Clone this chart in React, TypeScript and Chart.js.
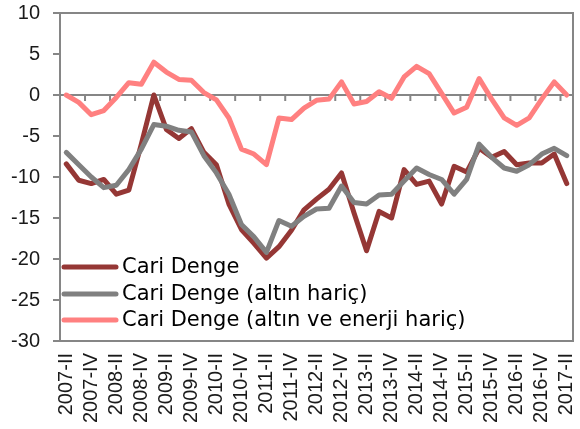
import React, { useEffect, useRef } from "react";
import { Chart, registerables } from "chart.js";

Chart.register(...registerables);

const categories = [
  "2007-II", "2007-III", "2007-IV",
  "2008-I", "2008-II", "2008-III", "2008-IV",
  "2009-I", "2009-II", "2009-III", "2009-IV",
  "2010-I", "2010-II", "2010-III", "2010-IV",
  "2011-I", "2011-II", "2011-III", "2011-IV",
  "2012-I", "2012-II", "2012-III", "2012-IV",
  "2013-I", "2013-II", "2013-III", "2013-IV",
  "2014-I", "2014-II", "2014-III", "2014-IV",
  "2015-I", "2015-II", "2015-III", "2015-IV",
  "2016-I", "2016-II", "2016-III", "2016-IV",
  "2017-I", "2017-II",
];

const cariDenge = [
  -8.4, -10.4, -10.8, -10.3, -12.1, -11.6, -6.0, 0.0, -4.2, -5.3,
  -4.1, -7.0, -8.5, -13.3, -16.4, -18.1, -19.9, -18.5, -16.5, -14.0,
  -12.7, -11.5, -9.5, -14.4, -19.0, -14.2, -15.0, -9.1, -10.9, -10.5,
  -13.3, -8.7, -9.4, -6.5, -7.6, -6.9, -8.5, -8.3, -8.3, -7.2, -10.8,
];

const altinHaric = [
  -7.0, -8.5, -10.0, -11.3, -11.0, -9.1, -6.6, -3.6, -3.8, -4.3,
  -4.5, -7.4, -9.5, -12.1, -15.8, -17.3, -19.2, -15.3, -16.0, -14.8,
  -13.9, -13.8, -11.1, -13.1, -13.3, -12.2, -12.1, -10.5, -8.9, -9.7,
  -10.3, -12.1, -10.3, -6.0, -7.6, -8.9, -9.3, -8.5, -7.2, -6.5, -7.4,
];

const altinEnerjiHaric = [
  0.0, -0.9, -2.4, -1.9, -0.3, 1.5, 1.3, 4.0, 2.8, 1.9,
  1.8, 0.3, -0.6, -2.8, -6.6, -7.2, -8.5, -2.8, -3.0, -1.6,
  -0.65, -0.5, 1.6, -1.1, -0.8, 0.4, -0.4, 2.2, 3.5, 2.6,
  0.2, -2.2, -1.5, 2.0, -0.5, -2.8, -3.7, -2.8, -0.5, 1.6, 0.0,
];

const seriesNames = [
  "Cari Denge",
  "Cari Denge (altın hariç)",
  "Cari Denge (altın ve enerji hariç)",
];
const seriesColors = ["#953735", "#808080", "#FF8080"];

const AXIS_COLOR = "#868686";

const framePlugin = {
  id: "frame",
  beforeDatasetsDraw(chart: any) {
    const { ctx, chartArea, scales } = chart;
    const x = scales.x;
    const y = scales.y;
    const y0 = y.getPixelForValue(0);
    ctx.save();
    ctx.strokeStyle = AXIS_COLOR;
    ctx.lineWidth = 2;
    ctx.beginPath();
    ctx.moveTo(chartArea.left, chartArea.top);
    ctx.lineTo(chartArea.right, chartArea.top);
    ctx.lineTo(chartArea.right, chartArea.bottom);
    ctx.stroke();
    ctx.beginPath();
    ctx.moveTo(chartArea.left, y0);
    ctx.lineTo(chartArea.right, y0);
    ctx.stroke();
    ctx.beginPath();
    for (let i = 2; i < categories.length; i += 2) {
      const px = (x.getPixelForValue(i - 1) + x.getPixelForValue(i)) / 2;
      ctx.moveTo(px, y0);
      ctx.lineTo(px, y0 + 6);
    }
    ctx.stroke();
    ctx.restore();
  },
};

const legendPlugin = {
  id: "inLegend",
  afterDatasetsDraw(chart: any) {
    const { ctx, chartArea } = chart;
    const offsets = [-74, -47, -21];
    ctx.save();
    ctx.font = "21px 'DejaVu Sans'";
    ctx.textBaseline = "middle";
    ctx.textAlign = "left";
    seriesNames.forEach((name, i) => {
      const cy = chartArea.bottom + offsets[i];
      ctx.strokeStyle = seriesColors[i];
      ctx.lineWidth = 5;
      ctx.lineCap = "round";
      ctx.beginPath();
      ctx.moveTo(chartArea.left + 4, cy);
      ctx.lineTo(chartArea.left + 56, cy);
      ctx.stroke();
      ctx.fillStyle = "#000000";
      ctx.fillText(name, chartArea.left + 62, cy + 1);
    });
    ctx.restore();
  },
};

export default function App() {
  const canvasRef = useRef<HTMLCanvasElement | null>(null);

  useEffect(() => {
    document.body.style.margin = "0";
    const canvas = canvasRef.current;
    if (!canvas) return;
    const datasets = [cariDenge, altinHaric, altinEnerjiHaric].map((d, i) => ({
      label: seriesNames[i],
      data: d,
      borderColor: seriesColors[i],
      backgroundColor: seriesColors[i],
      borderWidth: 5,
      pointRadius: 0,
      tension: 0,
      borderJoinStyle: "round" as const,
      borderCapStyle: "round" as const,
      fill: false,
      order: [2, 1, 0][i],
    }));
    const chart = new Chart(canvas, {
      type: "line",
      data: { labels: categories, datasets },
      plugins: [framePlugin, legendPlugin],
      options: {
        animation: false,
        responsive: false,
        maintainAspectRatio: false,
        layout: { padding: { top: 13, right: 7, left: 0, bottom: 0 } },
        plugins: {
          legend: { display: false },
          tooltip: { enabled: false },
          title: { display: false },
        },
        scales: {
          x: {
            type: "category",
            offset: true,
            grid: { display: false, drawTicks: false },
            border: { display: true, color: AXIS_COLOR, width: 2 },
            ticks: {
              autoSkip: false,
              maxRotation: 90,
              minRotation: 90,
              padding: 12,
              color: "#1a1a1a",
              font: { family: "'Liberation Sans', Arial, sans-serif", size: 20 },
              callback: (_v: any, i: number) => (i % 2 === 0 ? categories[i] : ""),
            },
            afterFit: (s: any) => {
              s.height = 88;
              s.paddingLeft = 0;
              s.paddingRight = 0;
            },
          },
          y: {
            min: -30,
            max: 10,
            ticks: {
              stepSize: 5,
              padding: 13,
              color: "#1a1a1a",
              font: { family: "'Liberation Sans', Arial, sans-serif", size: 20 },
            },
            grid: {
              display: true,
              drawOnChartArea: false,
              drawTicks: true,
              tickLength: 7,
              color: AXIS_COLOR,
              lineWidth: 2,
            },
            border: { display: true, color: AXIS_COLOR, width: 2 },
            afterFit: (s: any) => {
              s.width = 60;
              s.paddingTop = 0;
              s.paddingBottom = 0;
            },
          },
        },
      },
    });
    return () => chart.destroy();
  }, []);

  return (
    <div style={{ position: "absolute", left: 0, top: 0, width: 580, height: 429 }}>
      <canvas ref={canvasRef} width={580} height={429} />
    </div>
  );
}
